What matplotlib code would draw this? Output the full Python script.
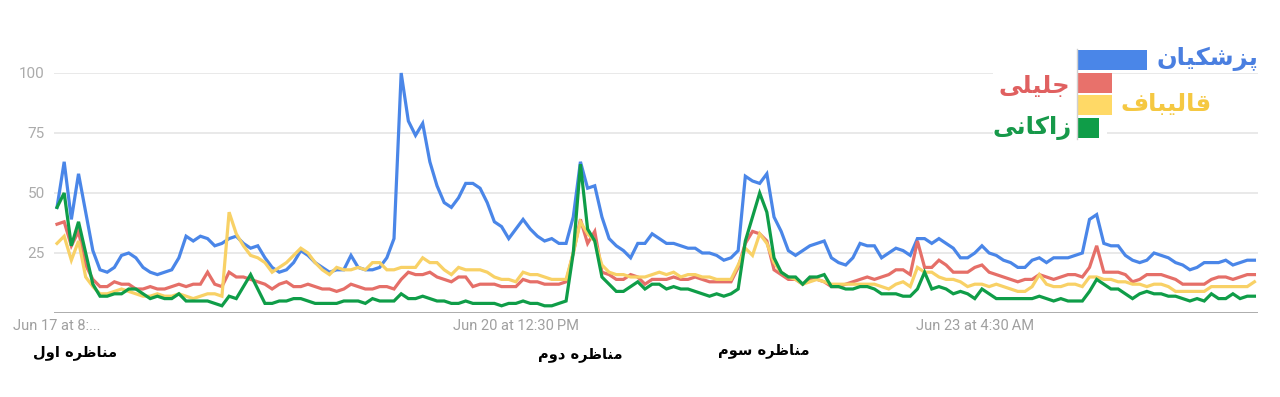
import numpy as np
import matplotlib
matplotlib.use("Agg")
import matplotlib.pyplot as plt
from matplotlib.patches import Rectangle

# ---------------- data (hourly search interest, 168 points) ----------------
pezeshkian = [44, 63, 39, 58, 42, 26, 18, 17, 19, 24,
              25, 23, 19, 17, 16, 17, 18, 23, 32, 30,
              32, 31, 28, 29, 31, 32, 29, 27, 28, 23,
              19, 17, 18, 21, 26, 24, 21, 19, 17, 18,
              18, 24, 19, 18, 18, 19, 23, 31, 100, 80,
              74, 79, 63, 53, 46, 44, 48, 54, 54, 52,
              46, 38, 36, 31, 35, 39, 35, 32, 30, 31,
              29, 29, 40, 63, 52, 53, 40, 31, 28, 26,
              23, 29, 29, 33, 31, 29, 29, 28, 27, 27,
              25, 25, 24, 22, 23, 26, 57, 55, 54, 58,
              40, 34, 26, 24, 26, 28, 29, 30, 23, 21,
              20, 23, 29, 28, 28, 23, 25, 27, 26, 24,
              31, 31, 29, 31, 29, 27, 23, 23, 25, 28,
              25, 24, 22, 21, 19, 19, 22, 23, 21, 23,
              23, 23, 24, 25, 39, 41, 29, 28, 28, 24,
              22, 21, 22, 25, 24, 23, 21, 20, 18, 19,
              21, 21, 21, 22, 20, 21, 22, 22]

jalili = [37, 38, 28, 34, 20, 14, 11, 11, 13, 12,
          12, 10, 10, 11, 10, 10, 11, 12, 11, 12,
          12, 17, 12, 11, 17, 15, 15, 14, 13, 12,
          10, 12, 13, 11, 11, 12, 11, 10, 10, 9,
          10, 12, 11, 10, 10, 11, 11, 10, 14, 17,
          16, 16, 17, 15, 14, 13, 15, 15, 11, 12,
          12, 12, 11, 11, 11, 14, 13, 13, 12, 12,
          12, 13, 25, 39, 29, 34, 17, 16, 14, 14,
          16, 15, 12, 14, 14, 14, 15, 14, 14, 15,
          14, 13, 13, 13, 13, 19, 29, 34, 33, 30,
          18, 16, 14, 14, 12, 14, 14, 13, 11, 11,
          12, 13, 14, 15, 14, 15, 16, 18, 18, 16,
          30, 19, 19, 22, 20, 17, 17, 17, 19, 20,
          17, 16, 15, 14, 13, 14, 14, 16, 15, 14,
          15, 16, 16, 15, 19, 28, 17, 17, 17, 16,
          13, 14, 16, 16, 16, 15, 14, 12, 12, 12,
          12, 14, 15, 15, 14, 15, 16, 16]

ghalibaf = [29, 32, 22, 30, 15, 11, 8, 8, 9, 10,
            9, 8, 7, 7, 8, 7, 7, 8, 7, 6,
            7, 8, 8, 7, 42, 33, 28, 24, 23, 21,
            17, 19, 21, 24, 27, 25, 21, 18, 16, 19,
            18, 18, 19, 18, 21, 21, 18, 18, 19, 19,
            19, 23, 21, 21, 18, 16, 19, 18, 18, 18,
            17, 15, 14, 14, 13, 17, 16, 16, 15, 14,
            14, 14, 25, 38, 33, 30, 20, 17, 16, 16,
            15, 15, 15, 16, 17, 16, 17, 15, 16, 16,
            15, 15, 14, 14, 14, 20, 27, 24, 33, 29,
            21, 17, 15, 14, 12, 13, 14, 13, 12, 12,
            12, 12, 12, 12, 12, 11, 10, 12, 13, 11,
            19, 17, 17, 15, 14, 14, 13, 11, 12, 12,
            11, 12, 11, 10, 9, 9, 11, 16, 12, 11,
            11, 12, 12, 11, 15, 15, 14, 14, 13, 13,
            12, 12, 11, 12, 12, 11, 9, 9, 9, 9,
            9, 11, 11, 11, 11, 11, 11, 13]

zakani = [44, 50, 28, 38, 25, 12, 7, 7, 8, 8,
          10, 10, 8, 6, 7, 6, 6, 8, 5, 5,
          5, 5, 4, 3, 7, 6, 11, 16, 10, 4,
          4, 5, 5, 6, 6, 5, 4, 4, 4, 4,
          5, 5, 5, 4, 6, 5, 5, 5, 8, 6,
          6, 7, 6, 5, 5, 4, 4, 5, 4, 4,
          4, 4, 3, 4, 4, 5, 4, 4, 3, 3,
          4, 5, 25, 62, 35, 30, 15, 12, 9, 9,
          11, 13, 10, 12, 12, 10, 11, 10, 10, 9,
          8, 7, 8, 7, 8, 10, 30, 40, 50, 42,
          23, 17, 15, 15, 12, 15, 15, 16, 11, 11,
          10, 10, 11, 11, 10, 8, 8, 8, 7, 7,
          10, 17, 10, 11, 10, 8, 9, 8, 6, 10,
          8, 6, 6, 6, 6, 6, 6, 7, 6, 5,
          6, 5, 5, 5, 9, 14, 12, 10, 10, 8,
          6, 8, 9, 8, 8, 7, 7, 6, 5, 6,
          5, 8, 6, 6, 8, 6, 7, 7]

series_names = ["پزشکیان", "جلیلی", "قالیباف", "زاکانی"]
legend_bar_values = [100, 50, 50, 31]
ytick_values = [25, 50, 75, 100]
xtick_index = [0, 64, 128]
xtick_labels = ["Jun 17 at 8:...", "Jun 20 at 12:30\u2009PM", "Jun 23 at 4:30\u2009AM"]
debate_labels = ["مناظره اول", "مناظره دوم", "مناظره سوم"]

# ---------------- minimal Persian shaping (matplotlib has no text shaping) ----------------
FORMS = {
    'ا': ('\uFE8D', '\uFE8E', None, None),
    'ب': ('\uFE8F', '\uFE90', '\uFE91', '\uFE92'),
    'پ': ('\uFB56', '\uFB57', '\uFB58', '\uFB59'),
    'ج': ('\uFE9D', '\uFE9E', '\uFE9F', '\uFEA0'),
    'د': ('\uFEA9', '\uFEAA', None, None),
    'ر': ('\uFEAD', '\uFEAE', None, None),
    'ز': ('\uFEAF', '\uFEB0', None, None),
    'س': ('\uFEB1', '\uFEB2', '\uFEB3', '\uFEB4'),
    'ش': ('\uFEB5', '\uFEB6', '\uFEB7', '\uFEB8'),
    'ظ': ('\uFEC5', '\uFEC6', '\uFEC7', '\uFEC8'),
    'ف': ('\uFED1', '\uFED2', '\uFED3', '\uFED4'),
    'ق': ('\uFED5', '\uFED6', '\uFED7', '\uFED8'),
    'ک': ('\uFB8E', '\uFB8F', '\uFB90', '\uFB91'),
    'ل': ('\uFEDD', '\uFEDE', '\uFEDF', '\uFEE0'),
    'م': ('\uFEE1', '\uFEE2', '\uFEE3', '\uFEE4'),
    'ن': ('\uFEE5', '\uFEE6', '\uFEE7', '\uFEE8'),
    'ه': ('\uFEE9', '\uFEEA', '\uFEEB', '\uFEEC'),
    'و': ('\uFEED', '\uFEEE', None, None),
    'ی': ('\uFBFC', '\uFBFD', '\uFBFE', '\uFBFF'),
}


def shape(word):
    out = []
    for k, c in enumerate(word):
        if c not in FORMS:
            out.append(c)
            continue
        iso, fin, ini, med = FORMS[c]
        prev = word[k - 1] if k > 0 else None
        nxt = word[k + 1] if k + 1 < len(word) else None
        jp = prev in FORMS and FORMS[prev][2] is not None
        jn = nxt in FORMS and ini is not None
        if jp and jn:
            out.append(med)
        elif jp:
            out.append(fin)
        elif jn:
            out.append(ini)
        else:
            out.append(iso)
    return ''.join(reversed(out))


# ---------------- figure ----------------
W, H = 1280, 397
fig = plt.figure(figsize=(W / 100, H / 100), dpi=100)
fig.patch.set_facecolor("white")


def fx(px):
    return px / W


def fy(py):
    return 1 - py / H


ax = fig.add_axes([fx(54), fy(313), fx(1258) - fx(54), fy(73) - fy(313)])
x = np.arange(len(pezeshkian))
line_colors = ["#4a86e8", "#e56f68", "#f8d166", "#0f9d48"]
for i, (vals, col) in enumerate(zip([pezeshkian, jalili, ghalibaf, zakani], line_colors)):
    ax.plot(x, vals, color=col, lw=2.3, solid_joinstyle="miter", zorder=3 + i, clip_on=False)

ax.set_xlim(-0.42, 167.5)
ax.set_ylim(0, 100)
for s in ax.spines.values():
    s.set_visible(False)
ax.axhline(0, color="#9e9e9e", lw=1.2, zorder=2)
ax.set_yticks(ytick_values)
ax.set_yticklabels([str(v) for v in ytick_values])
ax.grid(axis="y", color="#e3e3e3", lw=1.1, zorder=1)
ax.set_axisbelow(True)
ax.tick_params(axis="y", length=0, pad=6.5, labelsize=11, labelcolor="#ababab")
ax.set_xticks(xtick_index)
ax.set_xticklabels(xtick_labels)
ax.tick_params(axis="x", length=0, pad=4, labelsize=10.5, labelcolor="#a0a0a0")
for lab in ax.get_xticklabels() + ax.get_yticklabels():
    lab.set_fontfamily(["Roboto", "DejaVu Sans"])

# ---------------- legend (overlay) ----------------
fig.patches.append(Rectangle((fx(993), fy(145)), fx(1107) - fx(993), fy(40) - fy(145),
                             transform=fig.transFigure, facecolor="white", edgecolor="none", zorder=5))

lax = fig.add_axes([fx(1077), fy(139), fx(1147) - fx(1077), fy(49) - fy(139)])
lax.set_zorder(6)
lax.patch.set_alpha(0)
bar_colors = ["#4a86e8", "#e8716b", "#ffd966", "#0f9d48"]
lax.barh(np.arange(4), legend_bar_values, height=0.9, color=bar_colors, edgecolor="none")
lax.set_xlim(0, 100)
lax.set_ylim(3.5, -0.5)
lax.set_xticks([])
lax.set_yticks([])
for k, s in lax.spines.items():
    s.set_visible(k == "left")
lax.spines["left"].set_color("#d0d0d0")
lax.spines["left"].set_linewidth(1.0)

text_colors = ["#4a7fe0", "#e06060", "#f5c842", "#17994a"]
text_pos = [(1207, 59), (1034, 86), (1166, 104), (1032, 128)]
for name, col, (px, py) in zip(series_names, text_colors, text_pos):
    fig.text(fx(px), fy(py), shape(name), color=col, fontsize=17.5, fontweight="bold",
             family=["DejaVu Sans"], ha="center", va="center", zorder=7)

# ---------------- debate annotations ----------------
debate_pos = [(75, 352), (580, 355), (764, 350)]
for lab, (px, py) in zip(debate_labels, debate_pos):
    fig.text(fx(px), fy(py), shape(lab), color="black", fontsize=10.5, fontweight="bold",
             family=["DejaVu Sans"], ha="center", va="center")

fig.savefig("out.png", dpi=100, facecolor="white")
